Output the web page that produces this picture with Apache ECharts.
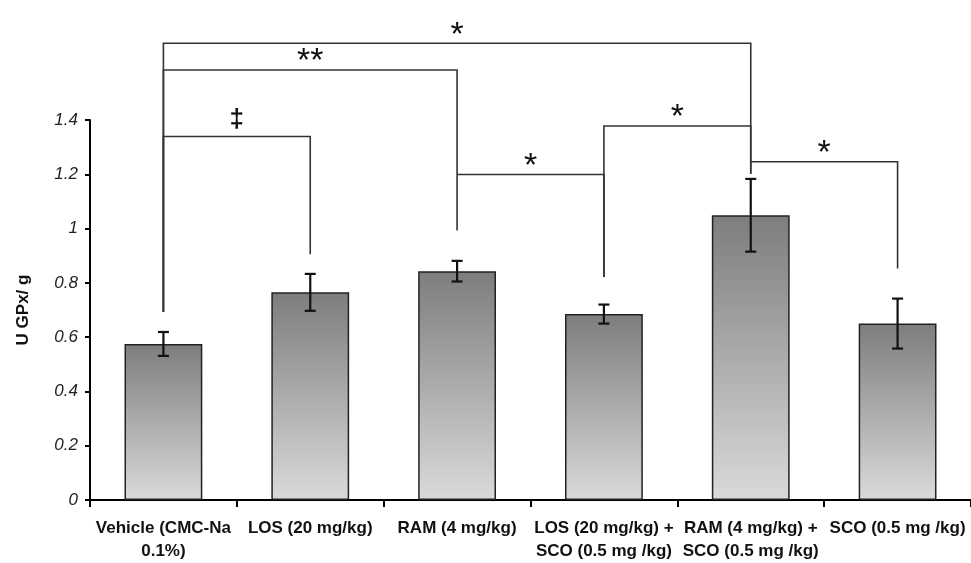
<!DOCTYPE html>
<html>
<head>
<meta charset="utf-8">
<script src="https://cdn.jsdelivr.net/npm/echarts@6/dist/echarts.min.js"></script>
<style>html,body{margin:0;padding:0;background:#fff}#c{width:971px;height:563px}</style>
</head>
<body>
<div id="c"></div>
<script>
var categories = ['Vehicle (CMC-Na\n0.1%)', 'LOS (20 mg/kg)', 'RAM (4 mg/kg)', 'LOS (20 mg/kg) +\nSCO (0.5 mg /kg)', 'RAM (4 mg/kg) +\nSCO (0.5 mg /kg)', 'SCO (0.5 mg /kg)'];
var means = [0.575, 0.765, 0.843, 0.685, 1.049, 0.650];
var errors = [0.044, 0.068, 0.038, 0.035, 0.134, 0.092];
var yTicks = { min: 0, max: 1.4, interval: 0.2 };
// significance brackets: from category, to category, bar height, left drop end, right drop end, mark
var bracketFrom = [0, 0, 0, 2, 3, 4];
var bracketTo = [4, 2, 1, 3, 4, 5];
var bracketY = [1.683, 1.584, 1.339, 1.199, 1.378, 1.246];
var bracketLeftEnd = [0.693, 0.693, 0.693, 1.199, 0.822, 1.246];
var bracketRightEnd = [1.202, 0.993, 0.905, 0.822, 1.202, 0.853];
var bracketMark = ['*', '**', '\u2021', '*', '*', '*'];

var errData = means.map(function (m, i) { return [i, m, errors[i]]; });
var brData = bracketFrom.map(function (f, i) { return [f, bracketTo[i], bracketY[i], bracketLeftEnd[i], bracketRightEnd[i]]; });

var chart = echarts.init(document.getElementById('c'), null, { renderer: 'canvas' });
chart.setOption({
  animation: false,
  backgroundColor: '#fff',
  grid: { left: 90, right: -7, top: 120, bottom: 61, containLabel: false },
  xAxis: {
    type: 'category',
    data: categories,
    boundaryGap: true,
    axisLine: { lineStyle: { color: '#000', width: 2 } },
    axisTick: { show: true, length: 7, lineStyle: { color: '#000', width: 2 } },
    axisLabel: {
      interval: 0, color: '#111', fontFamily: 'Liberation Sans', fontWeight: 'bold',
      fontSize: 17, lineHeight: 23, margin: 17
    }
  },
  yAxis: {
    type: 'value',
    min: yTicks.min, max: yTicks.max, interval: yTicks.interval,
    name: 'U GPx/ g',
    nameLocation: 'middle',
    nameRotate: 90,
    nameGap: 58,
    nameTextStyle: { color: '#111', fontFamily: 'Liberation Sans', fontWeight: 'bold', fontSize: 17 },
    splitLine: { show: false },
    axisLine: { show: true, lineStyle: { color: '#000', width: 2 } },
    axisTick: { show: true, length: 5, lineStyle: { color: '#000', width: 2 } },
    axisLabel: {
      color: '#222', fontFamily: 'Liberation Sans', fontStyle: 'italic', fontSize: 17, margin: 12
    }
  },
  series: [
    {
      type: 'bar',
      data: means,
      barWidth: '53%',
      itemStyle: {
        color: new echarts.graphic.LinearGradient(0, 0, 0, 1, [
          { offset: 0, color: '#7d7d7d' },
          { offset: 1, color: '#dadada' }
        ]),
        borderColor: '#222',
        borderWidth: 1.5
      },
      z: 2
    },
    {
      type: 'custom',
      data: errData,
      encode: { x: 0, y: 1 },
      z: 5,
      renderItem: function (params, api) {
        var x = api.value(0), m = api.value(1), e = api.value(2);
        var top = api.coord([x, m + e]);
        var bot = api.coord([x, m - e]);
        var hw = 5.5;
        var st = { stroke: '#111', lineWidth: 2.2 };
        return {
          type: 'group',
          children: [
            { type: 'line', shape: { x1: top[0], y1: top[1], x2: bot[0], y2: bot[1] }, style: st },
            { type: 'line', shape: { x1: top[0] - hw, y1: top[1], x2: top[0] + hw, y2: top[1] }, style: st },
            { type: 'line', shape: { x1: bot[0] - hw, y1: bot[1], x2: bot[0] + hw, y2: bot[1] }, style: st }
          ]
        };
      }
    },
    {
      type: 'custom',
      data: brData,
      encode: { x: [0, 1], y: [2] },
      clip: false,
      z: 4,
      renderItem: function (params, api) {
        var i = params.dataIndex;
        var f = api.value(0), t = api.value(1), y = api.value(2), le = api.value(3), re = api.value(4);
        var p1 = api.coord([f, y]);
        var p2 = api.coord([t, y]);
        var l = api.coord([f, le]);
        var r = api.coord([t, re]);
        var mark = bracketMark[i];
        var dag = mark === '\u2021';
        return {
          type: 'group',
          children: [
            { type: 'polyline', shape: { points: [[l[0], l[1]], [p1[0], p1[1]], [p2[0], p2[1]], [r[0], r[1]]] }, style: { stroke: '#333', lineWidth: 1.6, fill: null } },
            {
              type: 'text',
              x: (p1[0] + p2[0]) / 2,
              y: p1[1] + (dag ? -4 : 9),
              style: {
                text: mark,
                fill: '#111',
                fontFamily: 'Liberation Sans',
                fontWeight: dag ? 'bold' : 'normal',
                fontSize: dag ? 26 : 34,
                align: 'center',
                verticalAlign: 'bottom'
              }
            }
          ]
        };
      }
    }
  ]
});
</script>
</body>
</html>
